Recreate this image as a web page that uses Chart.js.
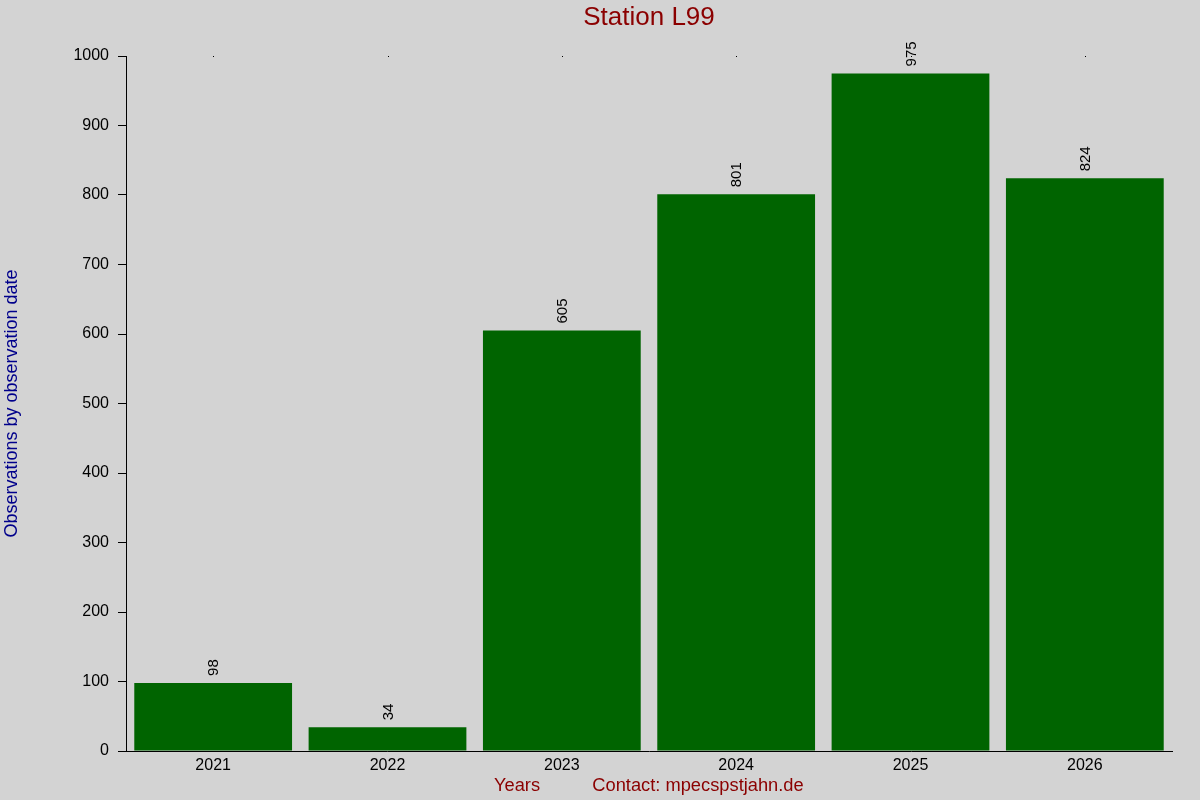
<!DOCTYPE html>
<html><head><meta charset="utf-8">
<script src="https://cdn.jsdelivr.net/npm/chart.js@4.4.0/dist/chart.umd.min.js"></script>
<style>html,body{margin:0;padding:0;background:#d3d3d3;}#wrap{width:1200px;height:800px;}</style>
</head><body><div id="wrap"><canvas id="c" width="1200" height="800"></canvas></div>
<script>
const years = ['2021','2022','2023','2024','2025','2026'];
const observations = [98, 34, 605, 801, 975, 824];
const yTicks = [0,100,200,300,400,500,600,700,800,900,1000];
const titleText = 'Station L99';
const yTitle = 'Observations by observation date';
const xTitle = 'Years';
const contactText = 'Contact: mpecspstjahn.de';
const FONT = '"Liberation Sans", Arial, sans-serif';

const extras = {
  id: 'extras',
  beforeDraw(chart) {
    const ctx = chart.ctx;
    ctx.save();
    ctx.fillStyle = '#d3d3d3';
    ctx.fillRect(0, 0, chart.width, chart.height);
    ctx.restore();
  },
  afterDraw(chart) {
    const ctx = chart.ctx, ca = chart.chartArea, xs = chart.scales.x;
    ctx.save();
    // title
    ctx.fillStyle = '#8b0000';
    ctx.font = '26px ' + FONT;
    ctx.textAlign = 'center'; ctx.textBaseline = 'middle';
    ctx.fillText(titleText, (ca.left + ca.right) / 2, 18);
    // bottom labels
    ctx.font = '18.3px ' + FONT;
    ctx.fillText(xTitle, 517, 786);
    ctx.fillText(contactText, 698, 786);
    // y title
    ctx.fillStyle = '#00008b';
    ctx.font = '18px ' + FONT;
    ctx.translate(12, (ca.top + ca.bottom) / 2);
    ctx.rotate(-Math.PI / 2);
    ctx.fillText(yTitle, 0, 0);
    ctx.restore();
    // top dots
    ctx.save();
    ctx.fillStyle = '#000';
    years.forEach((y, i) => {
      const px = Math.round(xs.getPixelForValue(i));
      ctx.fillRect(px, ca.top, 1, 1);
    });
    // data labels
    const meta = chart.getDatasetMeta(0);
    ctx.font = '15px ' + FONT;
    ctx.fillStyle = '#000';
    ctx.textAlign = 'left'; ctx.textBaseline = 'middle';
    meta.data.forEach((bar, i) => {
      ctx.save();
      ctx.translate(bar.x + 1, bar.y - 7);
      ctx.rotate(-Math.PI / 2);
      ctx.fillText(String(observations[i]), 0, 0);
      ctx.restore();
    });
    ctx.restore();
  }
};

new Chart(document.getElementById('c'), {
  type: 'bar',
  data: { labels: years, datasets: [{ data: observations, backgroundColor: '#006400', borderWidth: 0, categoryPercentage: 1.0, barPercentage: 0.905 }] },
  options: {
    responsive: false, animation: false, devicePixelRatio: 1,
    layout: { padding: { top: 56, right: 28, left: 0, bottom: 0 } },
    plugins: { legend: { display: false }, title: { display: false }, tooltip: { enabled: false } },
    scales: {
      x: {
        grid: { display: true, drawOnChartArea: false, drawTicks: false, color: '#000' },
        border: { display: true, color: '#000', width: 1 },
        ticks: { color: '#000', font: { size: 16, family: FONT }, padding: 5, maxRotation: 0 },
        afterFit(s) { s.height = 49; }
      },
      y: {
        min: 0, max: 1000,
        afterBuildTicks(s) { s.ticks = yTicks.map(v => ({ value: v })); },
        grid: { display: true, drawOnChartArea: false, drawTicks: true, tickLength: 8, color: '#000' },
        border: { display: true, color: '#000', width: 1 },
        ticks: { color: '#000', font: { size: 16, family: FONT }, padding: 9, callback: v => String(v) },
        afterFit(s) { s.width = 126; }
      }
    }
  },
  plugins: [extras]
});
</script></body></html>
